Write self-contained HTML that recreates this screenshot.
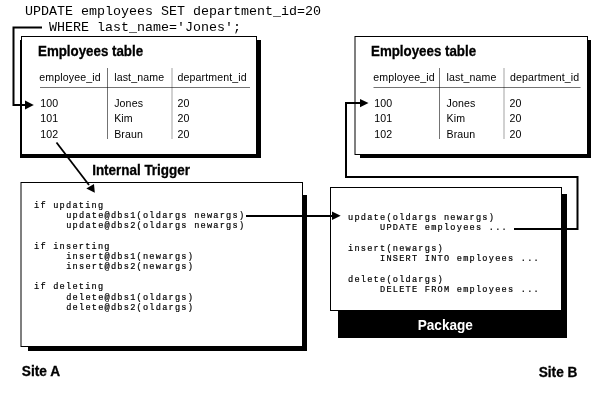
<!DOCTYPE html>
<html><head><meta charset="utf-8">
<style>
html,body{margin:0;padding:0;background:#fff;width:600px;height:400px;overflow:hidden;-webkit-font-smoothing:antialiased}
svg{position:absolute;left:0;top:0;display:block;will-change:transform}
.sans{font-family:"Liberation Sans",sans-serif}
.mono{font-family:"Liberation Mono",monospace;white-space:pre}
.t{font-weight:bold;font-size:14px;stroke-width:0.3px}
.t{stroke:#000}
.h{font-size:10.6px;letter-spacing:0.12px}
.c{font-size:8.6px;letter-spacing:1.24px;stroke:#000;stroke-width:0.2px}
.sql{font-size:13.33px}
</style></head><body>
<svg width="600" height="400" viewBox="0 0 600 400">
<!-- SQL statement -->
<text class="mono sql" x="25" y="15" fill="#000">UPDATE employees SET department_id=20</text>
<text class="mono sql" x="49" y="31" fill="#000">WHERE last_name='Jones';</text>

<!-- left table box -->
<rect x="20" y="40" width="241" height="118" fill="#000"/>
<rect x="21.5" y="36.5" width="235" height="118" fill="#fff" stroke="#000" stroke-width="1"/>
<text class="sans t" x="38" y="56" textLength="105.1" lengthAdjust="spacingAndGlyphs" fill="#000">Employees table</text>
<g class="sans h" fill="#000">
<text x="39.3" y="81">employee_id</text>
<text x="114.2" y="81">last_name</text>
<text x="177.5" y="81">department_id</text>
<text x="40.3" y="107">100</text><text x="114.2" y="107">Jones</text><text x="177.5" y="107">20</text>
<text x="40.3" y="122">101</text><text x="114.2" y="122">Kim</text><text x="177.5" y="122">20</text>
<text x="40.3" y="138">102</text><text x="114.2" y="138">Braun</text><text x="177.5" y="138">20</text>
</g>
<rect x="107" y="68" width="1" height="71" fill="rgba(0,0,0,0.55)"/>
<rect x="171" y="68" width="2" height="71" fill="rgba(0,0,0,0.18)"/>
<rect x="40" y="87" width="210" height="1" fill="rgba(0,0,0,0.55)"/>

<!-- right table box -->
<rect x="360" y="40" width="231" height="118" fill="#000"/>
<rect x="355" y="36.5" width="232.5" height="118" fill="#fff" stroke="#000" stroke-width="1"/>
<text class="sans t" x="371" y="56" textLength="105.1" lengthAdjust="spacingAndGlyphs" fill="#000">Employees table</text>
<g class="sans h" fill="#000">
<text x="373.3" y="81">employee_id</text>
<text x="446.5" y="81">last_name</text>
<text x="510" y="81">department_id</text>
<text x="374.3" y="107">100</text><text x="446.5" y="107">Jones</text><text x="509.5" y="107">20</text>
<text x="374.3" y="122">101</text><text x="446.5" y="122">Kim</text><text x="509.5" y="122">20</text>
<text x="374.3" y="138">102</text><text x="446.5" y="138">Braun</text><text x="509.5" y="138">20</text>
</g>
<rect x="439" y="68" width="1" height="71" fill="rgba(0,0,0,0.55)"/>
<rect x="503" y="68" width="2" height="71" fill="rgba(0,0,0,0.18)"/>
<rect x="373.5" y="87" width="207" height="1" fill="rgba(0,0,0,0.55)"/>

<!-- trigger box -->
<rect x="28" y="195" width="279" height="156" fill="#000"/>
<rect x="21" y="182.5" width="281.5" height="164" fill="#fff" stroke="#000" stroke-width="1"/>
<text class="sans t" x="92.2" y="175" textLength="97.7" lengthAdjust="spacingAndGlyphs" fill="#000">Internal Trigger</text>
<g class="mono c" fill="#000">
<text x="34" y="207.8">if updating</text>
<text x="66.2" y="218.0">update@dbs1(oldargs newargs)</text>
<text x="66.2" y="228.2">update@dbs2(oldargs newargs)</text>
<text x="34" y="248.6">if inserting</text>
<text x="66.2" y="258.8">insert@dbs1(newargs)</text>
<text x="66.2" y="269.0">insert@dbs2(newargs)</text>
<text x="34" y="289.4">if deleting</text>
<text x="66.2" y="299.6">delete@dbs1(oldargs)</text>
<text x="66.2" y="309.8">delete@dbs2(oldargs)</text>
</g>

<!-- package box -->
<rect x="338" y="194" width="229" height="144" fill="#000"/>
<rect x="330.5" y="187.5" width="231" height="123" fill="#fff" stroke="#000" stroke-width="1"/>
<text class="sans t" x="417.7" y="330" textLength="55.2" lengthAdjust="spacingAndGlyphs" fill="#fff" style="stroke:none">Package</text>
<g class="mono c" fill="#000">
<text x="348" y="219.9">update(oldargs newargs)</text>
<text x="380" y="230.2">UPDATE employees ...</text>
<text x="348" y="250.8">insert(newargs)</text>
<text x="380" y="261.1">INSERT INTO employees ...</text>
<text x="348" y="281.6">delete(oldargs)</text>
<text x="380" y="291.9">DELETE FROM employees ...</text>
</g>

<!-- site labels -->
<text class="sans t" x="21.8" y="376" textLength="38.3" lengthAdjust="spacingAndGlyphs" fill="#000">Site A</text>
<text class="sans t" x="538.7" y="376.7" textLength="38.7" lengthAdjust="spacingAndGlyphs" fill="#000">Site B</text>

<!-- arrows -->
<g fill="none" stroke="#000" stroke-width="2">
<polyline points="42,27.5 13.5,27.5 13.5,105 26,105"/>
<line x1="246" y1="216" x2="333" y2="216"/>
<polyline points="514,229 577.5,229 577.5,177 346,177 346,103 361,103"/>
<line x1="56.5" y1="142.5" x2="89" y2="185" stroke-width="1.8"/>
</g>
<g fill="#000">
<polygon points="25,100.5 25,109.5 33.8,105"/>
<polygon points="332,211.5 332,220 340.7,215.8"/>
<polygon points="360,99 360,107.2 368.5,103"/>
<polygon points="86.3,188.6 94,184 94.8,192.8"/>
</g>
</svg>
</body></html>
